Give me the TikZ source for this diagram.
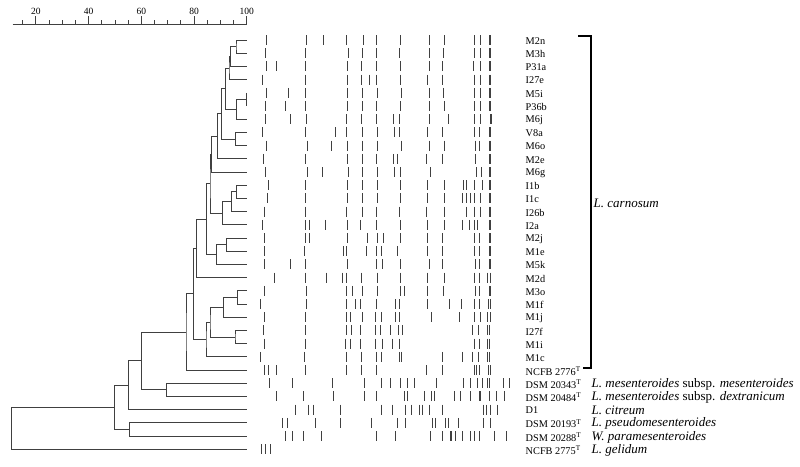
\documentclass[tikz,border=0pt]{standalone}
\usepackage{fontspec}
\setmainfont{Liberation Serif}
\usetikzlibrary{calc}

\tikzset{
  tree/.style={draw=black!75, line width=0.85pt},
  band/.style={draw=black!75, line width=0.9pt},
  strain/.style={anchor=west, inner sep=0pt, font=\fontsize{10.3}{12}\selectfont},
  species/.style={anchor=west, inner sep=0pt, font=\fontsize{13}{15}\selectfont\itshape},
  scalelab/.style={above, inner sep=1pt, font=\fontsize{9.5}{11}\selectfont},
}

% clade: name, x position, upper child, lower child
\newcommand{\clade}[4]{%
  \path let \p1=($(#3)!0.5!(#4)$) in (#2pt,\y1) coordinate (#1);
  \draw[tree] (#3) -| (#1) |- (#4);
}
% band pattern of one lane
\newcommand{\lane}[2]{%
  \foreach \b in {#2} \draw[band] (\b,{35+13.2*#1}) -- (\b,{45+13.2*#1});
}

\begin{document}
\begin{tikzpicture}[x=1pt, y=-1pt]
\useasboundingbox (0,0) rectangle (800,466);

% Similarity scale
\draw[tree] (12.7,24) -- (246.7,24);
\foreach \v in {15,20,...,100} \draw[tree] ({-16.8+2.635*\v},24) -- ++(0,-4);
\foreach \v in {20,40,...,100} \draw[tree] ({-16.8+2.635*\v},24) -- ++(0,-8) node[scalelab] {\v};

% Leaves
\foreach \i in {0,...,31} \coordinate (r\i) at (246.7,{40+13.2*\i});

% Dendrogram
\clade{cA}{236}{r0}{r1}
\clade{cB}{230.5}{cA}{r2}
\clade{cC}{229}{cB}{r3}
\clade{cD}{246.7}{r4}{r5}
\clade{cE}{236.7}{cD}{r6}
\clade{cF}{225.7}{cC}{cE}
\clade{cG}{235.7}{r7}{r8}
\clade{cH}{221.7}{cF}{cG}
\clade{cI}{217.7}{cH}{r9}
\clade{cJ}{211.5}{cI}{r10}
\clade{cK}{236.7}{r11}{r12}
\clade{cL}{231.7}{cK}{r13}
\clade{cM}{222.3}{cL}{r14}
\clade{cN}{210}{cJ}{cM}
\clade{cO}{226.7}{r15}{r16}
\clade{cP}{216.7}{cO}{r17}
\clade{cQ}{206.7}{cN}{cP}
\clade{cR}{196.5}{cQ}{r18}
\clade{cS}{237.3}{r19}{r20}
\clade{cT}{223.3}{cS}{r21}
\clade{cU}{235}{r22}{r23}
\clade{cV}{210}{cT}{cU}
\clade{cW}{206}{cV}{r24}
\clade{cX}{193.3}{cR}{cW}
\clade{cY}{186}{cX}{r25}
\clade{cZ}{166.7}{r26}{r27}
\clade{cAA}{141.7}{cY}{cZ}
\clade{cAB}{128.3}{cAA}{r28}
\clade{cAC}{129.3}{r29}{r30}
\clade{cAD}{114.3}{cAB}{cAC}
\clade{croot}{11.3}{cAD}{r31}

% Band patterns
\lane{0}{266.7,306,323.3,346.7,363.3,376.7,400.7,429,444.3,474.3,480.7,489,490.7}
\lane{1}{265.7,305,348.3,362.3,376.7,399.3,429,443.3,474.3,480,489,490.5}
\lane{2}{266.7,276.7,305.7,347.3,361.7,376,400,429,442.7,473.3,480,489,490.7}
\lane{3}{262.7,305.7,347.3,361.7,369.3,376,400,427.3,442.7,474.3,480,489,490.7}
\lane{4}{266,288.3,305.7,347.3,362.3,377.7,401.7,429,443.3,474.3,480,489,490.7}
\lane{5}{265,285.7,305,347.3,362.3,376,400,429,444.3,474.3,480,489,490.7}
\lane{6}{265,290.7,306,346.7,361.7,376.7,393.3,399.3,429,448.3,474.3,480,490,491.7}
\lane{7}{262.7,305,335,346,362.3,377.7,394.3,399.3,427.7,442.7,474,479.3,489,490.5}
\lane{8}{266.7,307.3,331.7,347.3,362.3,377.7,401.7,429,444.3,475.7,479.3,489,490.7}
\lane{9}{263.3,305,347.3,362.3,376,393.3,397.7,426.7,442.7,475.7,489,490.7}
\lane{10}{265,307.3,322.7,348.3,362.7,377.3,394,400.7,430,476.7,481,489,490.7}
\lane{11}{268.3,305,347.7,362.7,377.3,400.7,427.3,444.3,463.3,466.7,474.3,482.3,489,490.7}
\lane{12}{267.3,305.7,347.7,362.7,377.3,400.7,427.3,444.3,462.7,466.7,470,474,480,489,490.7}
\lane{13}{264,305,346,362.3,376.7,399.3,426.7,444.3,466.7,474,480,489,490.7}
\lane{14}{262.7,305,309,325,347.7,360,376.7,400.7,427.3,444.3,462.3,469.3,474,477.7,489,490.7}
\lane{15}{264,305,309,347.7,367.7,377.3,383.3,400.7,427.3,442.7,474.3,479.3,489,490.7}
\lane{16}{264,304,343.3,346.7,366.7,376,381,397.3,427.3,442.7,474.3,479.3,489,490.7}
\lane{17}{264,290.7,305,347.7,376,382.3,400.7,429,442.7,475.7,479.3,489,490.7}
\lane{18}{274,305,326.7,342.7,346.7,361.7,377.3,400.7,427.3,444.3,474.3,479.3,487.7,490}
\lane{19}{264,306,346.7,352.7,362.3,377.3,400.7,404.3,427.3,443.3,475.7,479.3,489,490.7}
\lane{20}{260.7,306,346.7,355.7,360.7,376.7,395.7,399.3,427.3,449.3,461,474.3,479.3,488.3,490.7}
\lane{21}{264,305,346.7,350,362.3,375.7,381,395.7,399.3,431.7,459.3,474,480,487.7,490}
\lane{22}{263.3,305,346.7,351,360,375.7,380,390,398.3,402.7,472.7,478.3,487.7,489.3}
\lane{23}{264,305.7,345,350,360.7,375.7,382.3,392.7,399.3,474,479,487.7,489.3}
\lane{24}{260.7,304.3,346.7,361.7,376,381.7,399,401.7,442.3,462.3,472.7,478.3,487.7,489.3}
\lane{25}{264,268.3,276.7,305,346.7,361.7,376,426.7,442.7,474,476,479.3,488.3,490}
\lane{26}{269.3,292.3,332.7,364,381,390,400.7,407.3,414,436.7,463.3,470.7,477.7,482.3,487.7,489.3,503.3,509}
\lane{27}{276.7,303.3,333.3,364,376.7,404,407.3,424,431.7,434,454,460,470.7,479.3,480.7,489.3,496,504}
\lane{28}{295.7,308.3,313.3,340.7,381.7,392.7,405,411,419.3,422.7,429,442.3,483.3,486.7,490.7,497.3}
\lane{29}{282.3,287.3,315,340,371,397.3,405.7,432.7,435,445,448.3,458.3,483.3,490.7}
\lane{30}{285.7,292.7,303.3,321,376.7,395.7,430,442.3,450,451.7,455,462.7,470,474,479.3,494.3,506.7}
\lane{31}{261.7,265.7,270}

% Strain labels
\foreach \i/\name in {0/M2n,1/M3h,2/P31a,3/I27e,4/M5i,5/P36b,6/M6j,7/V8a,8/M6o,9/M2e,
  10/M6g,11/I1b,12/I1c,13/I26b,14/I2a,15/M2j,16/M1e,17/M5k,18/M2d,19/M3o,20/M1f,
  21/M1j,22/I27f,23/M1i,24/M1c,25/{NCFB 2776\textsuperscript{T}},
  26/{DSM 20343\textsuperscript{T}},27/{DSM 20484\textsuperscript{T}},28/D1,
  29/{DSM 20193\textsuperscript{T}},30/{DSM 20288\textsuperscript{T}},31/{NCFB 2775\textsuperscript{T}}}
  \node[strain] (s\i) at (525.5,{41+13.2*\i}) {\name};

% L. carnosum bracket
\coordinate (btop) at (591,36);
\coordinate (bbot) at (591,368);
\draw[line width=1.3pt] (578,36) -- (btop) -- (bbot) -- (583,368);
\node[species] (carn) at (593.5,203) {L. carnosum};

% Species labels
\node[species] (mes) at (591.5,{41+13.2*26}) {L. mesenteroides \upshape subsp. \itshape mesenteroides};
\node[species] (dex) at (591.5,{41+13.2*27}) {L. mesenteroides \upshape subsp. \itshape dextranicum};
\node[species] (cit) at (591.5,{41+13.2*28}) {L. citreum};
\node[species] (pse) at (591.5,{41+13.2*29}) {L. pseudomesenteroides};
\node[species] (par) at (591.5,{41+13.2*30}) {W. paramesenteroides};
\node[species] (gel) at (591.5,{41+13.2*31}) {L. gelidum};

\end{tikzpicture}
\end{document}
